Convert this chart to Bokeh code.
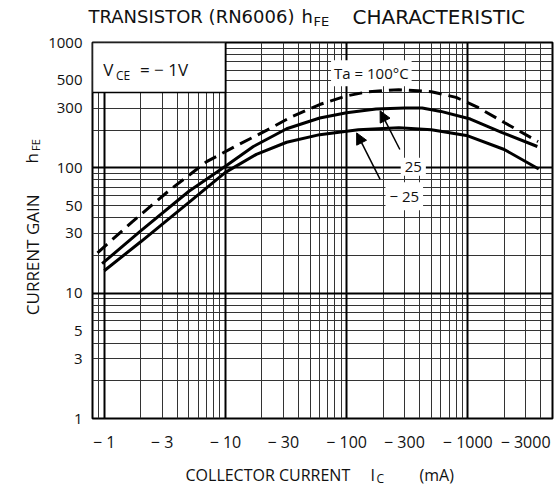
import math
from bokeh.plotting import figure
from bokeh.layouts import column, row
from bokeh.models import FixedTicker, Label, Arrow, NormalHead, Grid, Range1d
from bokeh.core.properties import value
from bokeh.embed import file_html
from bokeh.resources import INLINE

FONT = "Open Sans"
TFONT = "DejaVu Sans"

# ---- data (collector current magnitude in mA, hFE) ----
ic_100 = [0.88, 1.7, 3.5, 7, 12, 22, 35, 60, 100, 150, 270, 500, 800, 1200, 2000, 3800]
hfe_100 = [21, 37, 67, 112, 148, 200, 255, 320, 375, 405, 420, 405, 365, 305, 230, 162]

ic_25 = [0.96, 2, 5, 10, 17, 32, 60, 100, 175, 300, 420, 600, 1050, 1900, 3750]
hfe_25 = [17.2, 31.4, 65, 103, 148, 205, 250, 275, 295, 300, 300, 282, 245, 192, 148]

ic_m25 = [1.0, 2, 5, 10, 18, 32, 60, 125, 270, 500, 1000, 2000, 3850]
hfe_m25 = [15.1, 25.7, 53, 92, 128, 160, 184, 201, 209, 201, 180, 140, 98]

x_ticks = [1, 3, 10, 30, 100, 300, 1000, 3000]
x_tick_labels = ["− 1", "− 3", "− 10", "− 30", "− 100", "− 300", "− 1000", "− 3000"]
y_ticks = [1, 3, 5, 10, 30, 50, 100, 300, 500, 1000]
y_tick_labels = ["1", "3", "5", "10", "30", "50", "100", "300", "500", "1000"]

x_grid = [0.9] + [m * d for d in (1, 10, 100, 1000) for m in range(1, 10) if m * d < 5000]
y_grid = [m * d for d in (1, 10, 100) for m in range(1, 10)] + [1000]

# ---- main chart ----
p = figure(width=510, height=425, x_axis_type="log", y_axis_type="log",
           x_range=Range1d(0.8, 5000), y_range=Range1d(1, 1000),
           output_backend="svg", toolbar_location=None,
           min_border_left=47, min_border_right=3, min_border_top=12, min_border_bottom=34)
p.background_fill_color = "white"
p.border_fill_color = "white"
p.outline_line_color = "black"
p.outline_line_width = 2

for ax, ticks, labels, size in ((p.xaxis[0], x_ticks, x_tick_labels, "16px"),
                                (p.yaxis[0], y_ticks, y_tick_labels, "15px")):
    ax.ticker = FixedTicker(ticks=ticks)
    ax.major_label_overrides = {t: l for t, l in zip(ticks, labels)}
    ax.axis_line_color = None
    ax.major_tick_line_color = None
    ax.minor_tick_line_color = None
    ax.major_label_text_font = FONT
    ax.major_label_text_font_size = size
    ax.major_label_text_color = "#111"
p.xaxis.major_label_standoff = 6
p.yaxis.major_label_standoff = 4

p.xgrid.ticker = FixedTicker(ticks=x_grid)
p.ygrid.ticker = FixedTicker(ticks=y_grid)
for g in (p.xgrid[0], p.ygrid[0]):
    g.grid_line_color = "#333333"
    g.grid_line_width = 1
p.add_layout(Grid(dimension=0, ticker=FixedTicker(ticks=[1, 10, 100, 1000]),
                  grid_line_color="black", grid_line_width=2))
p.add_layout(Grid(dimension=1, ticker=FixedTicker(ticks=[10, 100]),
                  grid_line_color="black", grid_line_width=2))

# V_CE box (blank area of the chart paper)
p.quad(left=[0.8], right=[10], bottom=[400], top=[1000], fill_color="white",
       line_color="black", line_width=1.5)

p.line(ic_100, hfe_100, line_color="black", line_width=3, line_dash="13 7")
p.line(ic_25, hfe_25, line_color="black", line_width=3)
p.line(ic_m25, hfe_m25, line_color="black", line_width=3)

for xs, ys, xe, ye in ((275, 140, 189, 285), (189, 81, 121, 190)):
    p.add_layout(Arrow(end=NormalHead(size=11, fill_color="black", line_color="black", line_width=1),
                       x_start=xs, y_start=ys, x_end=xe, y_end=ye,
                       line_color="black", line_width=1.5))


def dlabel(t, x, y, size, align="left", bg=None, pad=0):
    kw = dict(background_fill_color=bg, padding=pad) if bg else {}
    p.add_layout(Label(x=x, y=y, text=t, text_font=FONT, text_font_size=f"{size}px",
                       text_color="#111", text_align=align, text_baseline="middle", **kw))


dlabel("V", 0.98, 612, 17)
dlabel("CE", 1.25, 548, 12)
dlabel("= − 1V", 1.97, 612, 17)
dlabel("Ta = 100°C", 160, 569, 15, align="center", bg="white", pad=3)
dlabel("25", 355, 102, 15, align="center", bg="white", pad=4)
dlabel("− 25", 299, 59.4, 15, align="center", bg="white", pad=4)


# ---- text strips around the chart ----
def text_fig(w, h, items):
    f = figure(width=w, height=h, x_range=Range1d(0, w), y_range=Range1d(0, h),
               x_axis_location=None, y_axis_location=None, toolbar_location=None,
               output_backend="svg", min_border=0)
    f.outline_line_color = None
    f.xgrid.visible = False
    f.ygrid.visible = False
    f.background_fill_color = "white"
    f.border_fill_color = "white"
    for t, x, y, size, align, angle, font in items:
        f.text(x=[x], y=[h - y], text=[t], text_font=value(font), text_font_size=f"{size}px",
               text_align=align, text_baseline="middle", angle=angle, text_color="#111")
    return f


title_fig = text_fig(555, 30, [
    ("TRANSISTOR (RN6006)", 88, 16, 18, "left", 0, TFONT),
    ("h", 301, 16, 18, "left", 0, TFONT),
    ("FE", 313, 21, 13, "left", 0, TFONT),
    ("CHARACTERISTIC", 352, 16, 20, "left", 0, TFONT),
])

ylab_fig = text_fig(45, 425, [
    ("CURRENT GAIN", 32, 240, 17, "center", math.pi / 2, FONT),
    ("h", 31, 131, 17, "center", math.pi / 2, FONT),
    ("FE", 35, 116, 11, "center", math.pi / 2, FONT),
])

xlab_fig = text_fig(555, 33, [
    ("COLLECTOR CURRENT", 185, 19, 16, "left", 0, FONT),
    ("I", 370, 19, 16, "left", 0, FONT),
    ("C", 376, 23, 12, "left", 0, FONT),
    ("(mA)", 419, 19, 16, "left", 0, FONT),
])

layout = column(title_fig, row(ylab_fig, p), xlab_fig)

open("out.html", "w").write(file_html(layout, INLINE))
